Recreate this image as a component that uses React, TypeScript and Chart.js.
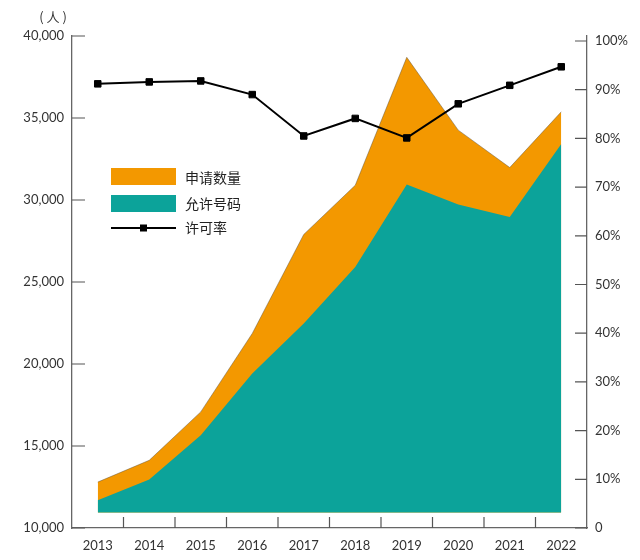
import React, { useEffect, useRef } from "react";
import { Chart, registerables } from "chart.js";

Chart.register(...registerables);

// ---- data ----
const years = ["2013", "2014", "2015", "2016", "2017", "2018", "2019", "2020", "2021", "2022"];
const applications = [12800, 14130, 17080, 21860, 27900, 30900, 38700, 34260, 31980, 35380];
const permits = [11690, 12950, 15650, 19420, 22470, 25920, 30950, 29730, 28970, 33410];
const permitRate = [91.2, 91.6, 91.8, 89.0, 80.5, 84.1, 80.1, 87.1, 90.9, 94.7];
const seriesNames = ["申请数量", "允许号码", "许可率"];
const leftMin = 10000;
const leftMax = 40000;
const leftStep = 5000;
const rightTickValues = [0, 10, 20, 30, 40, 50, 60, 70, 80, 90, 100];
const unitLabel = "( 人 )";
const areaBase = 10950;

const ORANGE = "#F39800";
const TEAL = "#0CA39A";
const AXIS = "#666666";
const TEXT = "#333333";

const decorPlugin = {
  id: "decor",
  afterDraw(chart: any) {
    const { ctx, chartArea: a, scales } = chart;
    const x = scales.x;
    const y = scales.y;
    const y1 = scales.y1;
    ctx.save();
    // inward ticks
    ctx.strokeStyle = "#555";
    ctx.lineWidth = 1.2;
    ctx.beginPath();
    y.ticks.forEach((t: any) => {
      const py = y.getPixelForValue(t.value);
      ctx.moveTo(a.left, py);
      ctx.lineTo(a.left + 13, py);
    });
    y1.ticks.forEach((t: any) => {
      const py = y1.getPixelForValue(t.value);
      ctx.moveTo(a.right, py);
      ctx.lineTo(a.right - 12, py);
    });
    for (let i = 0; i < years.length - 1; i++) {
      const px = (x.getPixelForValue(i) + x.getPixelForValue(i + 1)) / 2;
      ctx.moveTo(px, a.bottom);
      ctx.lineTo(px, a.bottom - 11);
    }
    ctx.stroke();

    // unit label
    ctx.fillStyle = TEXT;
    ctx.font = '13px "Noto Sans CJK SC"';
    ctx.textAlign = "center";
    ctx.textBaseline = "middle";
    ctx.fillText(unitLabel, a.left - 19, a.top - 19);

    // legend inside chart area
    const ds = chart.data.datasets;
    const bx = a.left + 39;
    const bw = 65;
    const tx = a.left + 113;
    ctx.font = '14px "Noto Sans CJK SC"';
    ctx.textAlign = "left";
    ctx.fillStyle = ds[0].backgroundColor;
    ctx.fillRect(bx, a.top + 132, bw, 17);
    ctx.fillStyle = ds[1].backgroundColor;
    ctx.fillRect(bx, a.top + 159, bw, 17);
    ctx.strokeStyle = "#000";
    ctx.lineWidth = 2;
    ctx.beginPath();
    ctx.moveTo(bx, a.top + 192);
    ctx.lineTo(bx + bw, a.top + 192);
    ctx.stroke();
    ctx.fillStyle = "#000";
    ctx.fillRect(bx + 29, a.top + 188.5, 7, 7);
    ctx.fillStyle = "#222";
    ctx.fillText(ds[0].label, tx, a.top + 141.5);
    ctx.fillText(ds[1].label, tx, a.top + 168);
    ctx.fillText(ds[2].label, tx, a.top + 191.5);
    ctx.restore();
  },
};

export default function App() {
  const ref = useRef<HTMLCanvasElement | null>(null);

  useEffect(() => {
    let chart: Chart | null = null;
    let cancelled = false;
    const make = () => {
      if (cancelled || !ref.current) return;
      const tickFont = { family: "Lato", size: 13 };
      const rightTop = rightTickValues[rightTickValues.length - 1];
      chart = new Chart(ref.current, {
        type: "line",
        data: {
          labels: years,
          datasets: [
            {
              label: seriesNames[0],
              data: applications,
              backgroundColor: ORANGE,
              borderColor: "rgba(90,80,60,0.65)",
              borderWidth: 0.7,
              pointRadius: 0,
              fill: { value: areaBase },
              tension: 0,
              yAxisID: "y",
              order: 2,
            },
            {
              label: seriesNames[1],
              data: permits,
              backgroundColor: TEAL,
              borderColor: TEAL,
              borderWidth: 0,
              pointRadius: 0,
              fill: { value: areaBase },
              tension: 0,
              yAxisID: "y",
              order: 1,
            },
            {
              label: seriesNames[2],
              data: permitRate,
              borderColor: "#000",
              backgroundColor: "#000",
              borderWidth: 2,
              pointStyle: "rect",
              pointRadius: 4.6,
              pointBorderWidth: 1,
              fill: false,
              tension: 0,
              yAxisID: "y1",
              order: 0,
            },
          ] as any,
        },
        options: {
          responsive: false,
          animation: false,
          layout: { padding: { top: 36, left: 0, right: 0, bottom: 0 } },
          plugins: {
            legend: { display: false },
            tooltip: { enabled: false },
          },
          scales: {
            x: {
              type: "category",
              offset: true,
              grid: { display: false, drawTicks: false },
              border: { display: true, color: AXIS, width: 1.3 },
              ticks: { font: tickFont, color: TEXT, padding: 10, maxRotation: 0 },
              afterFit: (s: any) => {
                s.height = 32;
              },
            },
            y: {
              position: "left",
              min: leftMin,
              max: leftMax,
              grid: { display: false, drawTicks: false },
              border: { display: true, color: AXIS, width: 1.3 },
              ticks: {
                stepSize: leftStep,
                font: tickFont,
                color: TEXT,
                padding: 8,
                callback: (v: any) => Number(v).toLocaleString("en-US"),
              },
              afterFit: (s: any) => {
                s.width = 72;
              },
            },
            y1: {
              position: "right",
              min: rightTickValues[0],
              max: (rightTop * 492) / 487,
              grid: { display: false, drawTicks: false },
              border: { display: true, color: AXIS, width: 1.3 },
              ticks: {
                font: tickFont,
                color: TEXT,
                padding: 8,
                callback: (v: any) => (Number(v) === 0 ? "0" : `${v}%`),
              },
              afterBuildTicks: (s: any) => {
                s.ticks = rightTickValues.map((v) => ({ value: v }));
              },
              afterFit: (s: any) => {
                s.width = 53;
              },
            },
          },
        } as any,
        plugins: [decorPlugin],
      });
    };
    const fonts = (document as any).fonts;
    if (fonts && fonts.load) {
      Promise.all([
        fonts.load('13px "Lato"'),
        fonts.load('14px "Noto Sans CJK SC"'),
      ])
        .catch(() => null)
        .then(make);
    } else {
      make();
    }
    return () => {
      cancelled = true;
      if (chart) chart.destroy();
    };
  }, []);

  return (
    <div style={{ position: "fixed", left: 0, top: 0, width: 640, height: 560, background: "#fff" }}>
      <canvas ref={ref} width={640} height={560} />
    </div>
  );
}
